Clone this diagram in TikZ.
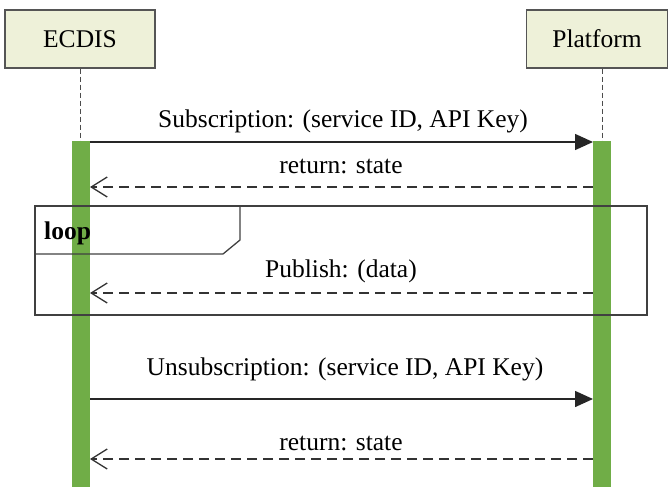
\documentclass[tikz,border=0pt]{standalone}
\usepackage{fontspec}
\setmainfont{Liberation Serif}
\usetikzlibrary{arrows.meta}
\definecolor{boxfill}{HTML}{EEF1D9}
\definecolor{boxline}{HTML}{555555}
\definecolor{bargreen}{HTML}{70AD47}
\begin{document}
\begin{tikzpicture}[x=1pt,y=-1pt,
  actor/.style={draw=boxline,fill=boxfill,line width=1.3pt,minimum width=140pt,minimum height=58pt,inner sep=0pt,font=\fontsize{25.5}{30}\selectfont},
  lifeline/.style={draw=black!70,line width=0.8pt,dash pattern=on 5pt off 3pt},
  bar/.style={fill=bargreen,draw=none},
  msg/.style={draw=black!85,line width=1.5pt,-{Triangle[length=18pt,width=16pt]}},
  ret/.style={draw=black!80,line width=1.4pt,dash pattern=on 10pt off 6pt,-{Straight Barb[length=16pt,width=20pt,line width=1.3pt]}},
  lbl/.style={font=\fontsize{25.5}{30}\selectfont,anchor=base,inner sep=0pt},
  frame/.style={draw=black!75,line width=1.3pt}]
\useasboundingbox (0,0) rectangle (668,487);
% actors
\node[actor,minimum width=150pt] (ecdis) at (80,39) {ECDIS};
\node[actor,minimum width=141pt] (plat) at (597,39) {Platform};
% lifeline coordinates
\coordinate (eTop) at (80,141);
\coordinate (pTop) at (602,141);
\draw[lifeline] (ecdis.south -| eTop) -- (eTop);
\draw[lifeline] (plat.south -| pTop) -- (pTop);
% activation bars
\fill[bar] (72,141) rectangle (90,487);
\fill[bar] (593,141) rectangle (611,487);
% loop frame
\draw[frame] (35,206) rectangle (647,315);
\draw[frame] (35,254) -- (223,254) -- (240,240) -- (240,206);
\node[lbl,anchor=base west,font=\fontsize{25.5}{30}\selectfont\bfseries] (looplbl) at (44,239) {loop};
% message coordinates
\coordinate (m1s) at (90,142); \coordinate (m1e) at (593,142);
\coordinate (r1s) at (593,187); \coordinate (r1e) at (90,187);
\coordinate (p1s) at (593,293); \coordinate (p1e) at (90,293);
\coordinate (m2s) at (90,399); \coordinate (m2e) at (593,399);
\coordinate (r2s) at (593,459); \coordinate (r2e) at (90,459);
% messages
\draw[msg] (m1s) -- (m1e);
\node[lbl] (l1) at (343,127) {Subscription: (service ID, API Key)};
\draw[ret] (r1s) -- (r1e);
\node[lbl] (l2) at (341,173) {return: state};
\draw[ret] (p1s) -- (p1e);
\node[lbl] (l3) at (341,277) {Publish: (data)};
\draw[msg] (m2s) -- (m2e);
\node[lbl] (l4) at (345,375) {Unsubscription: (service ID, API Key)};
\draw[ret] (r2s) -- (r2e);
\node[lbl] (l5) at (341,450) {return: state};
\end{tikzpicture}
\end{document}
